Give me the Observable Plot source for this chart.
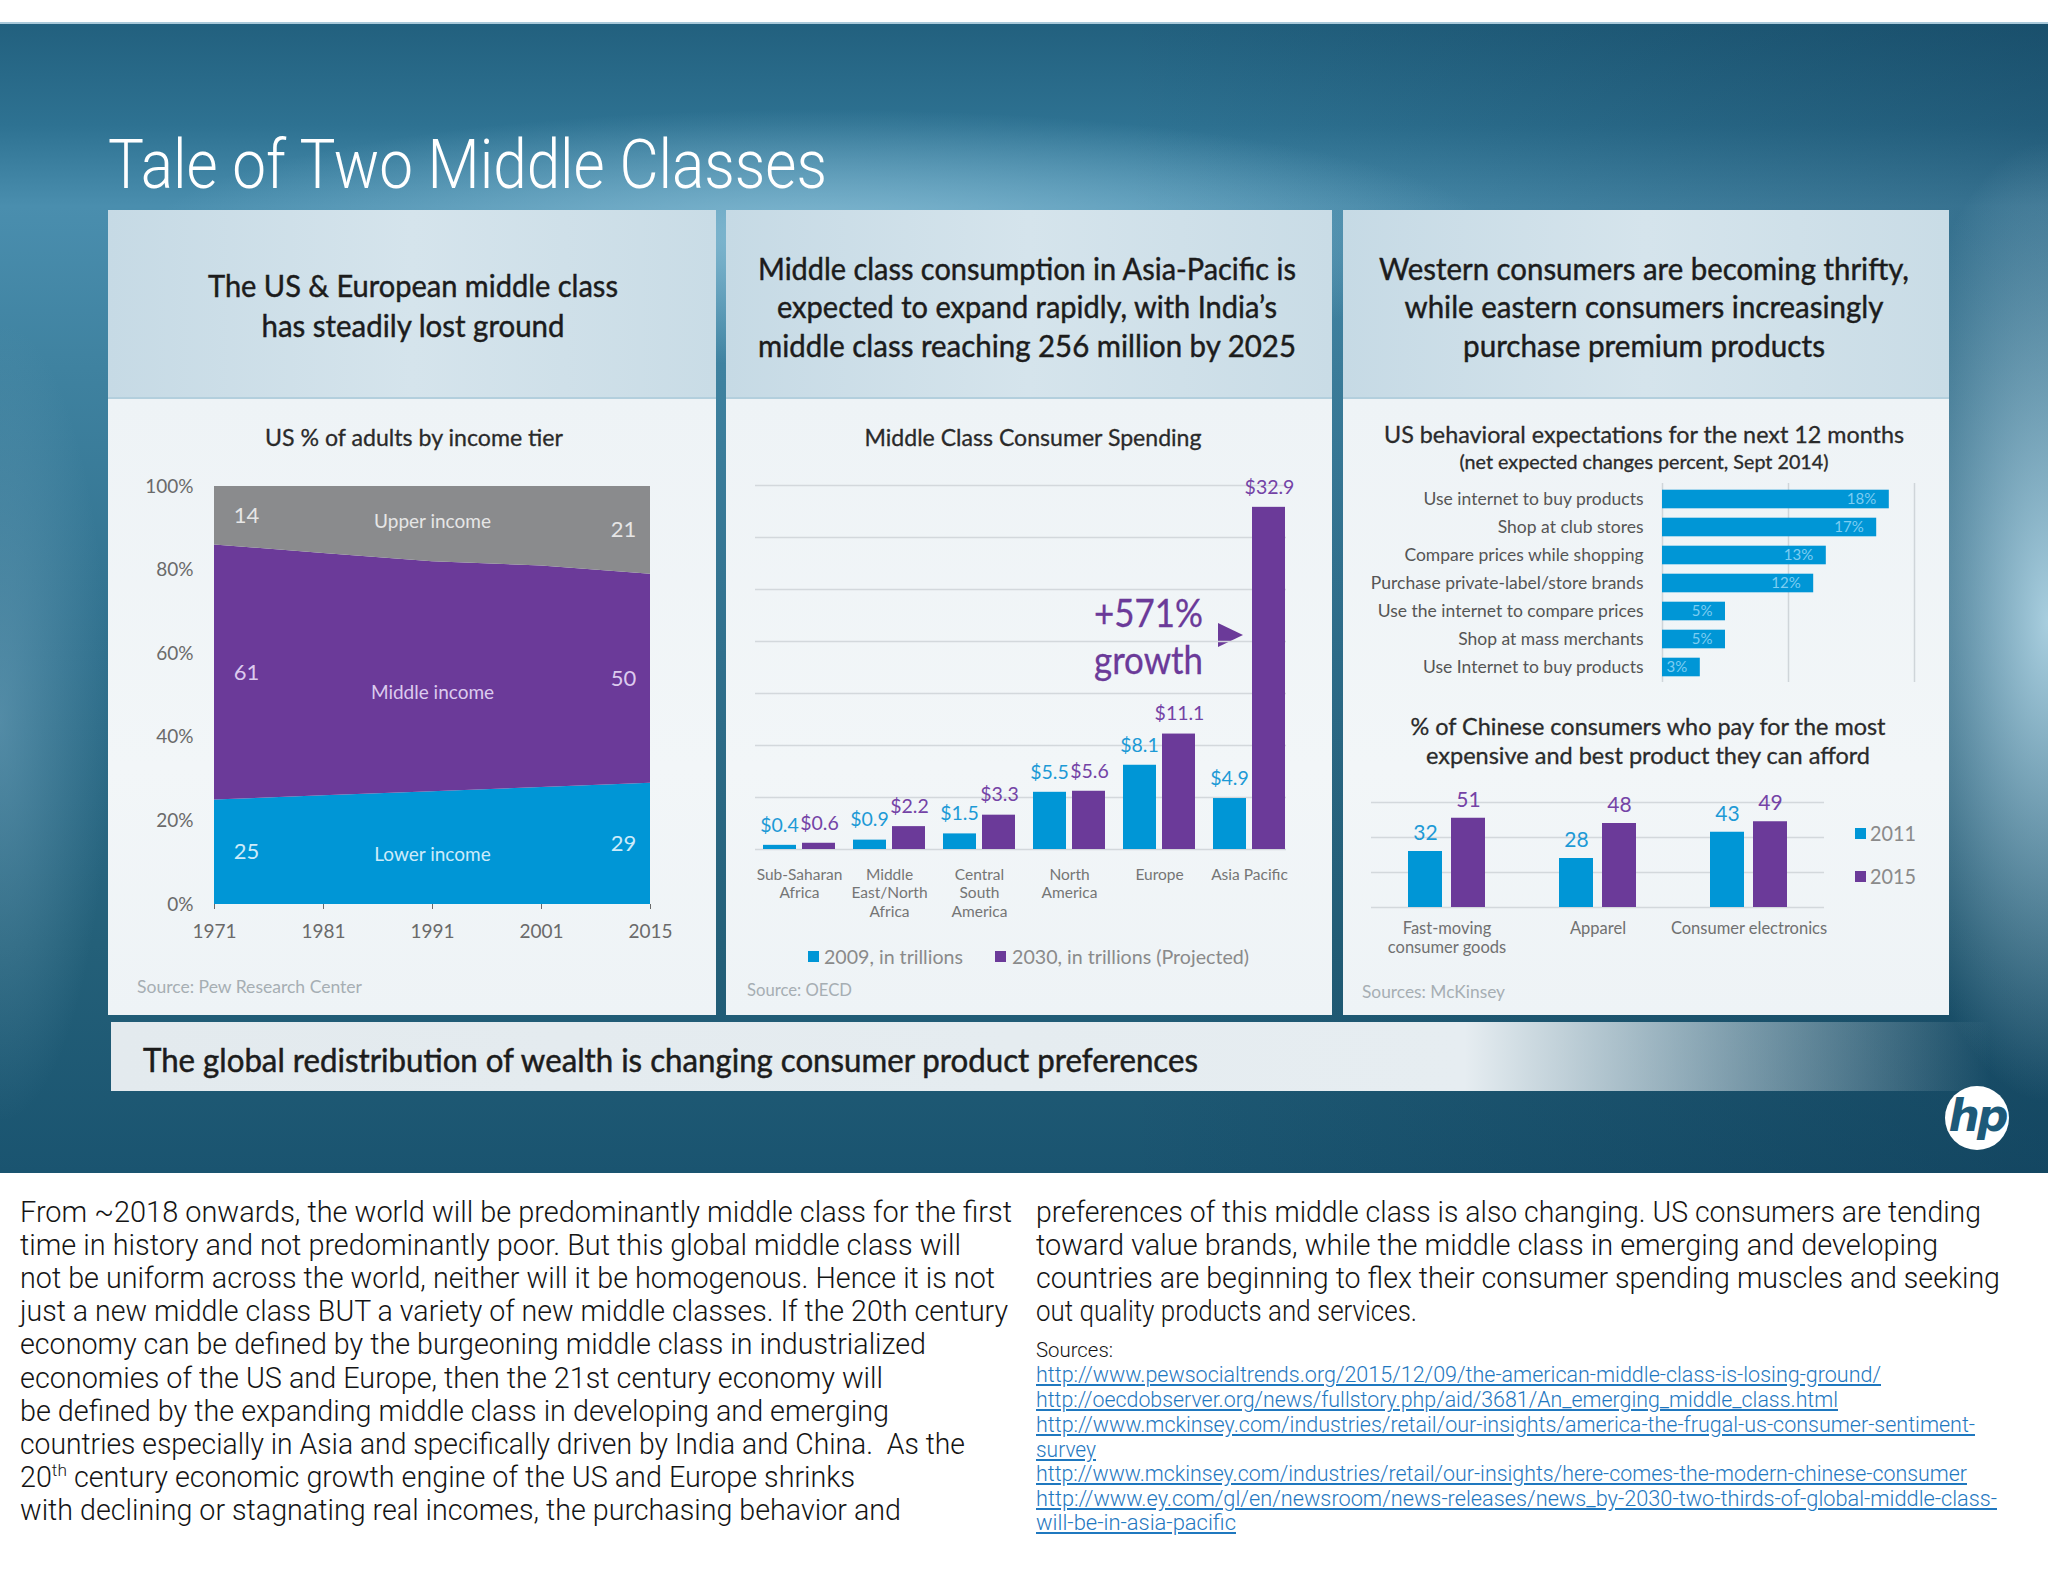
<!DOCTYPE html>
<html><head><meta charset="utf-8">
<script src="https://cdn.jsdelivr.net/npm/d3@7"></script>
<script src="https://cdn.jsdelivr.net/npm/@observablehq/plot@0.6"></script>
<style>
html,body{margin:0;padding:0;background:#fff}
#page{position:relative;width:2048px;height:1582px;overflow:hidden;background:#fff}
.box{position:absolute}
.t{position:absolute;white-space:nowrap;line-height:1;display:inline-block}
.chart{position:absolute}
.chart svg{display:block;overflow:visible}
sup{font-size:0.6em;vertical-align:0.6em;line-height:0}
</style></head><body><div id="page"></div>
<script>
// ---------------- DATA ----------------
// Chart 1: US % of adults by income tier
const incomeYears = ["1971", "1981", "1991", "2001", "2015"];
const incomeTiers = ["Lower income", "Middle income", "Upper income"];
const lowerIncome = [25, 26, 27, 28, 29];
const middleIncome = [61, 58, 55, 53, 50];
const upperIncome = [14, 16, 18, 19, 21];
const incomeTicks = [0, 20, 40, 60, 80, 100];

// Chart 2: Middle Class Consumer Spending (trillions)
const regionNames = ["Sub-Saharan\nAfrica", "Middle\nEast/North\nAfrica", "Central\nSouth\nAmerica", "North\nAmerica", "Europe", "Asia Pacific"];
const spending2009 = [0.4, 0.9, 1.5, 5.5, 8.1, 4.9];
const spending2030 = [0.6, 2.2, 3.3, 5.6, 11.1, 32.9];
const spendingGrid = [0, 5, 10, 15, 20, 25, 30, 35];

// Chart 3: US behavioral expectations
const behaviorLabels = ["Use internet to buy products", "Shop at club stores", "Compare prices while shopping", "Purchase private-label/store brands", "Use the internet to compare prices", "Shop at mass merchants", "Use Internet to buy products"];
const behaviorPct = [18, 17, 13, 12, 5, 5, 3];
const behaviorGrid = [0, 10, 20];

// Chart 4: Chinese consumers paying for the most expensive product
const productCats = ["Fast-moving\nconsumer goods", "Apparel", "Consumer electronics"];
const premium2011 = [32, 28, 43];
const premium2015 = [51, 48, 49];
const premiumGrid = [0, 20, 40, 60];

// ---------------- STYLE ----------------
const FONT = "Lato, 'Open Sans', sans-serif";
const LIGHT = "Roboto, Lato, sans-serif";
const BLUE = "#0096d6", PURPLE = "#6b3a99", GREY = "#8a8b8d";
const page = document.getElementById("page");

function box(x, y, w, h, bg, extra) {
  const d = document.createElement("div");
  d.className = "box";
  Object.assign(d.style, {left: x + "px", top: y + "px", width: w + "px", height: h + "px", background: bg}, extra || {});
  page.appendChild(d);
  return d;
}
function T(str, o) {
  const el = document.createElement("span");
  el.className = "t";
  if (o.html) el.innerHTML = str; else el.textContent = str;
  Object.assign(el.style, {left: o.x + "px", top: o.y + "px", fontSize: o.size + "px",
    fontWeight: o.weight || 400, color: o.color || "#222", fontFamily: o.family || FONT}, o.style || {});
  if (o.stroke) el.style.webkitTextStroke = o.stroke + "px " + (o.color || "#222");
  page.appendChild(el);
  const a = o.anchor || "start";
  const fx = a === "start" ? 0 : a === "middle" ? 50 : 100;
  let s = 1;
  if (o.w) { const w = el.getBoundingClientRect().width; if (w > 0) s = o.w / w; }
  el.style.transformOrigin = fx + "% 50%";
  el.style.transform = `translate(${-fx}%, -50%) scaleX(${s})`;
  return el;
}
function chart(svg, x, y) {
  const d = document.createElement("div");
  d.className = "chart";
  d.style.left = x + "px"; d.style.top = y + "px";
  d.appendChild(svg);
  page.appendChild(d);
}

// ---------------- BACKGROUND ----------------
box(0, 22, 2048, 1151,
  "radial-gradient(ellipse 900px 170px at 820px 215px, rgba(150,200,222,0.75), rgba(150,200,222,0) 75%)," +
  "radial-gradient(ellipse 170px 480px at 2048px 600px, rgba(175,212,228,0.95), rgba(175,212,228,0) 100%)," +
  "radial-gradient(ellipse 110px 400px at 0px 700px, rgba(120,170,195,0.5), rgba(120,170,195,0) 100%)," +
  "linear-gradient(90deg, rgba(5,40,65,0) 55%, rgba(5,40,65,0.3) 100%)," +
  "linear-gradient(180deg, #22607e 0%, #2e7292 9%, #4a8eae 16%, #3f82a0 30%, #30708d 55%, #246079 80%, #1a5470 100%)");
box(0, 22, 2048, 2, "#a9c9da");

// Panels
const panelX = [108, 726, 1343], panelW = [608, 606, 606];
panelX.forEach((x, i) => {
  box(x, 210, panelW[i], 188, "linear-gradient(90deg, #c6dae5 0%, #d5e4ec 50%, #c9dce6 100%)");
  box(x, 398, panelW[i], 617, "linear-gradient(180deg, #eef3f6 0%, #f2f6f8 60%, #eef3f6 100%)");
  box(x, 397, panelW[i], 2, "#b3cfdd");
});
// Bottom banner
box(111, 1022, 1880, 69, "linear-gradient(90deg, #e3eaee 0%, #e6edf1 72%, rgba(230,237,241,0) 100%)");

// HP logo
box(1945, 1086, 64, 64, "#fff", {borderRadius: "50%"});
T("hp", {x: 1977, y: 1116, size: 44, weight: 700, color: "#1d5a79", anchor: "middle",
  family: "'DejaVu Sans', sans-serif", style: {fontStyle: "italic", letterSpacing: "-3px"}});

// ---------------- TEXTS ----------------
T("Tale of Two Middle Classes", {x: 108, y: 165, size: 68, weight: 300, color: "#fff", w: 719, family: LIGHT});

const HEAD = {size: 31, weight: 400, color: "#1c1c1c", anchor: "middle", stroke: 0.45};
T("The US & European middle class", {...HEAD, x: 413, y: 285, w: 410});
T("has steadily lost ground", {...HEAD, x: 413, y: 325, w: 303});
T("Middle class consumption in Asia-Pacific is", {...HEAD, x: 1027, y: 268, w: 538});
T("expected to expand rapidly, with India\u2019s", {...HEAD, x: 1027, y: 306, w: 500});
T("middle class reaching 256 million by 2025", {...HEAD, x: 1027, y: 345, w: 538});
T("Western consumers are becoming thrifty,", {...HEAD, x: 1644, y: 268, w: 530});
T("while eastern consumers increasingly", {...HEAD, x: 1644, y: 306, w: 479});
T("purchase premium products", {...HEAD, x: 1644, y: 345, w: 362});

const CT = {size: 24, weight: 400, color: "#2a2a2a", anchor: "middle", stroke: 0.3};
T("US % of adults by income tier", {...CT, x: 414, y: 437, w: 298});
T("Middle Class Consumer Spending", {...CT, x: 1033, y: 437, w: 337});
T("US behavioral expectations for the next 12 months", {...CT, x: 1644, y: 434, w: 520});
T("(net expected changes percent, Sept 2014)", {...CT, size: 19, x: 1644, y: 461, w: 369});
T("% of Chinese consumers who pay for the most", {...CT, x: 1648, y: 726, w: 475});
T("expensive and best product they can afford", {...CT, x: 1648, y: 755, w: 444});

// growth annotation
T("+571%", {x: 1203, y: 612, size: 38, color: PURPLE, anchor: "end", w: 109, stroke: 0.3});
T("growth", {x: 1203, y: 659, size: 38, color: PURPLE, anchor: "end", w: 109, stroke: 0.3});
box(1218, 623, 0, 0, "transparent", {borderLeft: "25px solid " + PURPLE, borderTop: "12.5px solid transparent", borderBottom: "12.5px solid transparent"});

// legends
const LG = {size: 20, color: "#8a8a8a"};
box(808, 951, 11, 11, BLUE);
T("2009, in trillions", {...LG, x: 824, y: 956, w: 139});
box(995, 951, 11, 11, PURPLE);
T("2030, in trillions (Projected)", {...LG, x: 1012, y: 956, w: 237});
box(1855, 828, 11, 11, BLUE);
T("2011", {...LG, size: 22, x: 1870, y: 833, w: 46});
box(1855, 871, 11, 11, PURPLE);
T("2015", {...LG, size: 22, x: 1870, y: 876, w: 46});

// sources
const SRC = {size: 17, color: "#a6aeb3"};
T("Source: Pew Research Center", {...SRC, x: 137, y: 986, w: 225});
T("Source: OECD", {...SRC, x: 747, y: 989, w: 105});
T("Sources: McKinsey", {...SRC, x: 1362, y: 991, w: 143});

// banner
T("The global redistribution of wealth is changing consumer product preferences", {x: 143, y: 1060, size: 32, weight: 400, color: "#1c1c1c", w: 1055, stroke: 0.5});

// body text
const BODY = {size: 29, weight: 300, color: "#141414", family: LIGHT};
const leftLines = [
  "From ~2018 onwards, the world will be predominantly middle class for the first",
  "time in history and not predominantly poor. But this global middle class will",
  "not be uniform across the world, neither will it be homogenous. Hence it is not",
  "just a new middle class BUT a variety of new middle classes. If the 20th century",
  "economy can be defined by the burgeoning middle class in industrialized",
  "economies of the US and Europe, then the 21st century economy will",
  "be defined by the expanding middle class in developing and emerging",
  "countries especially in Asia and specifically driven by India and China.&nbsp; As the",
  "20<sup>th</sup> century economic growth engine of the US and Europe shrinks",
  "with declining or stagnating real incomes, the purchasing behavior and"];
const leftW = [992, 941, 975, 988, 906, 863, 869, 945, 835, 881];
leftLines.forEach((s, i) => T(s, {...BODY, html: true, x: 20, y: 1212 + i * 33.1, w: leftW[i]}));
const rightLines = [
  "preferences of this middle class is also changing. US consumers are tending",
  "toward value brands, while the middle class in emerging and developing",
  "countries are beginning to flex their consumer spending muscles and seeking",
  "out quality products and services."];
const rightW = [945, 902, 964, 381];
rightLines.forEach((s, i) => T(s, {...BODY, x: 1036, y: 1212 + i * 33.1, w: rightW[i]}));
T("Sources:", {...BODY, size: 21, x: 1036, y: 1350, w: 77});
const links = [
  "http://www.pewsocialtrends.org/2015/12/09/the-american-middle-class-is-losing-ground/",
  "http://oecdobserver.org/news/fullstory.php/aid/3681/An_emerging_middle_class.html",
  "http://www.mckinsey.com/industries/retail/our-insights/america-the-frugal-us-consumer-sentiment-",
  "survey",
  "http://www.mckinsey.com/industries/retail/our-insights/here-comes-the-modern-chinese-consumer",
  "http://www.ey.com/gl/en/newsroom/news-releases/news_by-2030-two-thirds-of-global-middle-class-",
  "will-be-in-asia-pacific"];
const linkY = [1375, 1400, 1425, 1450, 1474, 1499, 1523];
const linkW = [845, 802, 939, 60, 931, 961, 200];
links.forEach((s, i) => T(s, {...BODY, size: 22, color: "#1f78bf", x: 1036, y: linkY[i], w: linkW[i], style: {textDecoration: "underline"}}));

// ---------------- CHART 1: stacked area ----------------
const tierVals = [lowerIncome, middleIncome, upperIncome];
const incomeRows = incomeTiers.flatMap((tier, k) => incomeYears.map((year, i) => ({tier, year, value: tierVals[k][i]})));
const tierLabelColors = ["#cdebfa", "#dccbee", "#e6e6e6"];
const nameNudge = [7, 16, -2];
const incomeMarks = [Plot.areaY(incomeRows, {x: "year", y: "value", fill: "tier", order: incomeTiers})];
incomeTiers.forEach((tier, k) => {
  const mid = i => d3.sum(tierVals.slice(0, k), v => v[i]) + tierVals[k][i] / 2;
  const last = incomeYears.length - 1;
  incomeMarks.push(
    Plot.text([{year: incomeYears[0], y: mid(0), t: tierVals[k][0]}], {x: "year", y: "y", text: "t", dx: 32, fill: tierLabelColors[k], fontSize: 22}),
    Plot.text([{year: incomeYears[last], y: mid(last), t: tierVals[k][last]}], {x: "year", y: "y", text: "t", dx: -27, fill: tierLabelColors[k], fontSize: 22}),
    Plot.text([{year: incomeYears[2], y: mid(2), t: tier}], {x: "year", y: "y", text: "t", dy: nameNudge[k], fill: tierLabelColors[k], fontSize: 19})
  );
});
chart(Plot.plot({
  width: 608, height: 520, marginLeft: 105, marginRight: 66, marginTop: 26, marginBottom: 76,
  style: {background: "transparent", fontFamily: FONT, fontSize: "19px", color: "#6a6a6a", overflow: "visible"},
  x: {type: "point", domain: incomeYears, padding: 0, label: null, tickSize: 5, tickPadding: 15},
  y: {domain: [0, 100], ticks: incomeTicks, tickFormat: d => d + "%", label: null, tickSize: 0, tickPadding: 20},
  color: {domain: incomeTiers, range: [BLUE, PURPLE, GREY]},
  marks: incomeMarks
}), 108, 460);

// ---------------- CHART 2: grouped bars ----------------
const rows2009 = regionNames.map((region, i) => ({region, value: spending2009[i]}));
const rows2030 = regionNames.map((region, i) => ({region, value: spending2030[i]}));
chart(Plot.plot({
  width: 606, height: 500, marginLeft: 27, marginRight: 37, marginTop: 45, marginBottom: 91,
  style: {background: "transparent", fontFamily: FONT, fontSize: "16px", overflow: "visible"},
  x: {type: "band", domain: regionNames, padding: 0, axis: null},
  y: {domain: [0, 35], axis: null},
  marks: [
    Plot.ruleY(spendingGrid, {stroke: "#d3d8dc", strokeWidth: 1.5, insetLeft: 2, insetRight: 9}),
    Plot.barY(rows2009, {x: "region", y: "value", fill: BLUE, insetLeft: 9, insetRight: 48}),
    Plot.barY(rows2030, {x: "region", y: "value", fill: PURPLE, insetLeft: 48, insetRight: 9}),
    Plot.text(rows2009, {x: "region", y: "value", text: d => "$" + d.value, dx: -20, dy: -20, fill: "#1d9ad6", fontSize: 19.5}),
    Plot.text(rows2030, {x: "region", y: "value", text: d => "$" + d.value, dx: 20, dy: -20, fill: "#7443a6", fontSize: 19.5}),
    Plot.text(regionNames, {x: d => d, text: d => d, frameAnchor: "bottom", lineAnchor: "top", dy: 17, lineHeight: 1.2, fill: "#757575", fontSize: 15.5})
  ]
}), 726, 440);

// ---------------- CHART 3: horizontal bars ----------------
const behaviorRows = behaviorLabels.map((label, i) => ({i, label, value: behaviorPct[i]}));
chart(Plot.plot({
  width: 606, height: 215, marginLeft: 319, marginRight: 35, marginTop: 8, marginBottom: 8,
  style: {background: "transparent", fontFamily: FONT, fontSize: "17.5px", color: "#555", overflow: "visible"},
  x: {domain: [0, 20], axis: null},
  y: {type: "band", domain: d3.range(behaviorLabels.length), padding: 0, tickFormat: i => behaviorLabels[i], tickSize: 0, tickPadding: 19, label: null},
  marks: [
    Plot.ruleX(behaviorGrid, {stroke: "#cfd5d9", strokeWidth: 1.5}),
    Plot.barX(behaviorRows, {x: "value", y: "i", fill: BLUE, insetTop: 4.7, insetBottom: 4.7}),
    Plot.text(behaviorRows, {x: "value", y: "i", text: d => d.value + "%", textAnchor: "end", dx: -13, fill: "#7ccdf2", fontSize: 15})
  ]
}), 1343, 475);

// ---------------- CHART 4: grouped bars ----------------
const rows2011 = productCats.map((cat, i) => ({cat, value: premium2011[i]}));
const rows2015 = productCats.map((cat, i) => ({cat, value: premium2015[i]}));
chart(Plot.plot({
  width: 606, height: 190, marginLeft: 28, marginRight: 125, marginTop: 22, marginBottom: 63,
  style: {background: "transparent", fontFamily: FONT, fontSize: "17px", overflow: "visible"},
  x: {type: "band", domain: productCats, padding: 0, axis: null},
  y: {domain: [0, 60], axis: null},
  marks: [
    Plot.ruleY(premiumGrid, {stroke: "#d3d8dc", strokeWidth: 1.5}),
    Plot.barY(rows2011, {x: "cat", y: "value", fill: BLUE, insetLeft: 37, insetRight: 80}),
    Plot.barY(rows2015, {x: "cat", y: "value", fill: PURPLE, insetLeft: 80, insetRight: 37}),
    Plot.text(rows2011, {x: "cat", y: "value", text: "value", dx: -21.5, dy: -18, fill: "#1d9ad6", fontSize: 21}),
    Plot.text(rows2015, {x: "cat", y: "value", text: "value", dx: 21.5, dy: -18, fill: "#7443a6", fontSize: 21}),
    Plot.text(productCats, {x: d => d, text: d => d, frameAnchor: "bottom", lineAnchor: "top", dy: 13, lineHeight: 1.15, fill: "#707070", fontSize: 16.5})
  ]
}), 1343, 780);
</script></body></html>
